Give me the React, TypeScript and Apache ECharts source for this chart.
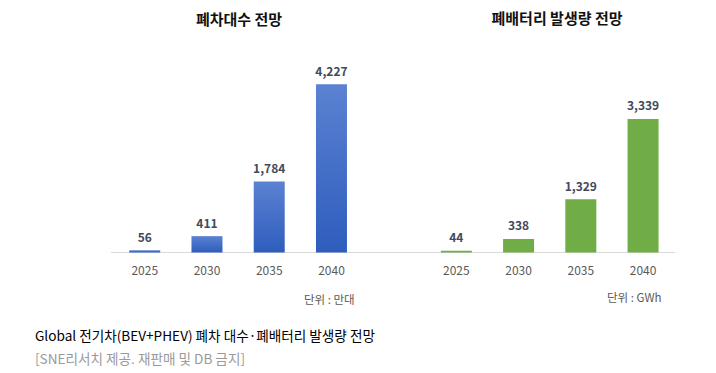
import React, { useEffect, useRef } from "react";
import * as echarts from "echarts";

const years = ["2025", "2030", "2035", "2040"];
const scrappedCars = [56, 411, 1784, 4227];
const wasteBatteries = [44, 338, 1329, 3339];
const leftTitle = "폐차대수 전망";
const rightTitle = "폐배터리 발생량 전망";
const leftUnit = "단위 : 만대";
const rightUnit = "단위 : GWh";
const caption = "Global 전기차(BEV+PHEV) 폐차 대수·폐배터리 발생량 전망";
const source = "[SNE리서치 제공. 재판매 및 DB 금지]";

const FONT = "'Noto Sans CJK KR', 'Noto Sans', sans-serif";

export default function App() {
  const ref = useRef<HTMLDivElement>(null);
  useEffect(() => {
    if (!ref.current) return;
    const chart = echarts.init(ref.current, null, { renderer: "svg" });
    const label = {
      show: true,
      position: "top",
      distance: 8,
      color: "#404a5a",
      fontWeight: "bold",
      fontSize: 12,
      fontFamily: FONT,
      formatter: (p: any) => Number(p.value).toLocaleString("en-US"),
    };
    const xAxisCommon = {
      type: "category",
      data: years,
      axisLine: { show: false },
      axisTick: { show: false },
      axisLabel: { color: "#595959", fontSize: 12, fontFamily: FONT, margin: 11 },
    };
    const yAxisCommon = {
      type: "value",
      min: 0,
      show: false,
      splitLine: { show: false },
    };
    chart.setOption({
      animation: false,
      backgroundColor: "#ffffff",
      textStyle: { fontFamily: FONT },
      grid: [
        { left: 113.6, width: 249, top: 53.5, height: 199, containLabel: false },
        { left: 425.2, width: 249, top: 92.5, height: 160, containLabel: false },
      ],
      xAxis: [
        { ...xAxisCommon, gridIndex: 0 },
        { ...xAxisCommon, gridIndex: 1 },
      ],
      yAxis: [
        { ...yAxisCommon, gridIndex: 0, max: 5000 },
        { ...yAxisCommon, gridIndex: 1, max: 4000 },
      ],
      series: [
        {
          type: "bar",
          xAxisIndex: 0,
          yAxisIndex: 0,
          data: scrappedCars,
          barWidth: 31,
          z: 3,
          itemStyle: {
            color: new echarts.graphic.LinearGradient(0, 0, 0, 1, [
              { offset: 0, color: "#5b82d2" },
              { offset: 1, color: "#2e5dbd" },
            ]),
          },
          label,
        },
        {
          type: "bar",
          xAxisIndex: 1,
          yAxisIndex: 1,
          data: wasteBatteries,
          barWidth: 31,
          z: 3,
          itemStyle: { color: "#70ad47" },
          label,
        },
      ],
      graphic: [
        {
          type: "line",
          z: 1,
          shape: { x1: 111, y1: 252.5, x2: 675, y2: 252.5 },
          style: { stroke: "#d9d9d9", lineWidth: 1 },
        },
        {
          type: "text",
          x: 239,
          y: 18,
          style: {
            text: leftTitle,
            fill: "#111111",
            font: `bold 15px ${FONT}`,
            textAlign: "center",
            textVerticalAlign: "middle",
          },
        },
        {
          type: "text",
          x: 557,
          y: 17,
          style: {
            text: rightTitle,
            fill: "#111111",
            font: `bold 15px ${FONT}`,
            textAlign: "center",
            textVerticalAlign: "middle",
          },
        },
        {
          type: "text",
          x: 304,
          y: 299,
          style: {
            text: leftUnit,
            fill: "#595959",
            font: `11.5px ${FONT}`,
            textAlign: "left",
            textVerticalAlign: "middle",
          },
        },
        {
          type: "text",
          x: 607,
          y: 297,
          style: {
            text: rightUnit,
            fill: "#595959",
            font: `11.5px ${FONT}`,
            textAlign: "left",
            textVerticalAlign: "middle",
          },
        },
        {
          type: "text",
          x: 35,
          y: 335,
          style: {
            text: caption,
            fill: "#000000",
            font: `13.6px ${FONT}`,
            textAlign: "left",
            textVerticalAlign: "middle",
          },
        },
        {
          type: "text",
          x: 35,
          y: 358,
          style: {
            text: source,
            fill: "#9a9a9a",
            font: `13.6px ${FONT}`,
            textAlign: "left",
            textVerticalAlign: "middle",
          },
        },
      ],
    });
    return () => chart.dispose();
  }, []);
  return (
    <div
      ref={ref}
      style={{ width: 716, height: 373, position: "absolute", left: 0, top: 0 }}
    />
  );
}
